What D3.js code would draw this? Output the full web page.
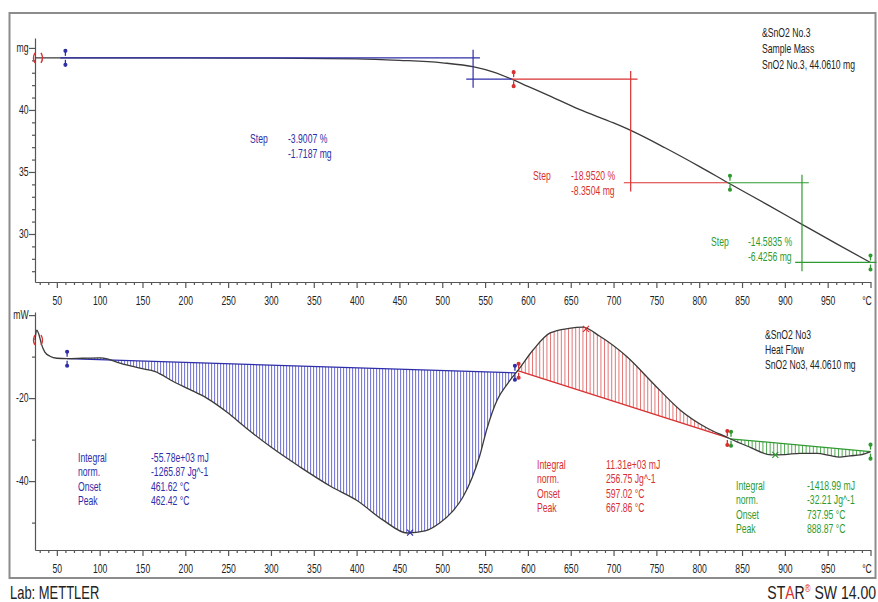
<!DOCTYPE html>
<html>
<head>
<meta charset="utf-8">
<script src="https://cdn.jsdelivr.net/npm/d3@7"></script>
<style>
  body { margin: 0; background: #fff; }
  svg { display: block; }
  text { font-family: "Liberation Sans", Arial, sans-serif; }
</style>
</head>
<body>
<svg id="chart" width="878" height="602"></svg>
<script>
// ---- Data ---------------------------------------------------------------
// Temperature axis ticks (°C)
const tempMajor = [50, 100, 150, 200, 250, 300, 350, 400, 450, 500, 550, 600, 650, 700, 750, 800, 850, 900, 950, 1000];
// TGA: sample mass (mg) against temperature (°C)
const massTemp = [24.5, 60, 100, 200, 300, 400, 450, 500, 537, 560, 581, 600, 620, 660, 700, 720, 760, 800, 833.6, 880, 920, 960, 1000];
const massVal  = [44.20, 44.20, 44.20, 44.19, 44.17, 44.12, 44.00, 43.80, 43.47, 43.05, 42.4813, 41.90, 41.30, 40.05, 38.95, 38.35, 36.95, 35.45, 34.13, 32.35, 30.78, 29.22, 27.70];
const massMajor = [30, 35, 40, 45];
// DSC: heat flow (mW) against temperature (°C)
const heatTemp = [24.5, 26.5, 29, 32, 36, 42, 50, 62, 80, 100, 110, 120, 135, 147, 165, 186, 205, 225, 250, 271, 300, 334, 370, 400, 431, 459, 480, 497, 512, 524, 544, 552, 564, 576, 581, 586, 588, 606, 626, 648, 664, 684, 716, 746, 778, 809, 834, 836, 859, 884, 900, 918, 938, 952, 964, 976, 988, 1000];
const heatVal  = [-6.0, -3.6, -4.6, -7.0, -8.9, -9.9, -10.4, -10.5, -10.4, -10.3, -10.6, -11.3, -12.2, -12.8, -13.6, -16.0, -17.9, -20.0, -23.6, -27.2, -31.8, -36.6, -41.3, -44.6, -49.4, -52.5, -52.0, -50.1, -47.3, -43.9, -33.7, -27.5, -20.5, -16.6, -15.2, -13.9, -13.4, -8.4, -4.3, -3.2, -2.9, -5.1, -10.1, -16.4, -22.9, -27.2, -29.6, -29.8, -31.8, -33.7, -33.6, -33.3, -33.3, -33.8, -34.2, -33.9, -33.7, -32.9];
const heatMajor = [0, -20, -40];

// TGA step evaluations
const stepLimits = [[60, 581], [581, 833.6], [833.6, 1000]];
const stepMid    = [536, 720, 920];
const stepPct    = ["-3.9007 %", "-18.9520 %", "-14.5835 %"];
const stepMg     = [-1.7187, -8.3504, -6.4256];

// DSC peak integrations
const peakLimits   = [[62, 586], [588, 834], [836, 1000]];
const peakIntegral = ["-55.78e+03 mJ", "11.31e+03 mJ", "-1418.99 mJ"];
const peakNorm     = ["-1265.87 Jg^-1", "256.75 Jg^-1", "-32.21 Jg^-1"];
const peakOnset    = [461.62, 597.02, 737.95];
const peakTemp     = [462.42, 667.86, 888.87];

// ---- Styling --------------------------------------------------------------
const colors = ["#2e2ea8", "#d83030", "#2f9a2f"];
const hatchColors = ["#5a5ad0", "#e06868", "#3f9f3f"];
const SX = 0.72;              // horizontal compression of all lettering
const svg = d3.select("#chart");

function txt(g, x, y, s, fill, size, anchor) {
  return g.append("text")
    .attr("transform", `translate(${x},${y}) scale(${SX},1)`)
    .attr("fill", fill).attr("font-size", size)
    .attr("text-anchor", anchor || "start").text(s);
}
function interp(xs, ys, t) {
  const i = Math.max(1, d3.bisectLeft(xs, t));
  const j = Math.min(i, xs.length - 1);
  const x0 = xs[j - 1], x1 = xs[j];
  return ys[j - 1] + (ys[j] - ys[j - 1]) * (t - x0) / (x1 - x0);
}

// outer frame
svg.append("rect").attr("x", 9.5).attr("y", 13).attr("width", 866).attr("height", 565)
  .attr("fill", "none").attr("stroke", "#8c8c8c").attr("stroke-width", 2);

// ---- Scales -----------------------------------------------------------
const x = d3.scaleLinear().domain([24.5, 1000]).range([35, 870.5]);
const yMass = d3.scaleLinear().domain([45.8, 26.13]).range([38, 282]);
const yHeat = d3.scaleLinear().domain([0.75, -56.6]).range([312, 550]);

const tempMinor = d3.range(30, 1000, 10).filter(t => t % 50 !== 0);

function xAxis(yPos) {
  const g = svg.append("g").attr("transform", `translate(0,${yPos})`);
  g.append("g").call(d3.axisBottom(x).tickValues(tempMinor).tickSize(3).tickSizeOuter(0).tickFormat(""))
    .call(a => a.select(".domain").remove());
  const major = g.append("g").call(d3.axisBottom(x).tickValues(tempMajor).tickSize(6).tickSizeOuter(0)
    .tickPadding(8).tickFormat(t => t === 1000 ? "°C" : t));
  major.selectAll("text").attr("font-size", 12).attr("fill", "#222")
    .attr("font-family", "Liberation Sans, Arial, sans-serif")
    .attr("transform", t => `translate(${t === 1000 ? -4 : 0},0) scale(${SX},1)`);
  g.selectAll("line, path").attr("stroke", "#555").attr("stroke-width", 1.2);
}
function yAxis(scale, majors, minors, unit) {
  const g = svg.append("g").attr("transform", "translate(35,0)");
  g.append("g").call(d3.axisLeft(scale).tickValues(minors).tickSize(3).tickSizeOuter(0).tickFormat(""));
  const major = g.append("g").call(d3.axisLeft(scale).tickValues(majors).tickSize(6).tickSizeOuter(0)
    .tickPadding(3).tickFormat(v => v === majors[0] ? unit : v));
  major.select(".domain").remove();
  major.selectAll("text").attr("font-size", 12).attr("fill", "#222")
    .attr("font-family", "Liberation Sans, Arial, sans-serif")
    .attr("transform", `scale(${SX},1)`);
  g.selectAll("line, path").attr("stroke", "#555").attr("stroke-width", 1.2);
}

xAxis(282);
xAxis(550);
yAxis(yMass, [45, 40, 35, 30], d3.range(27, 46).filter(v => v % 5 !== 0), "mg");
yAxis(yHeat, heatMajor, [-10, -30, -50], "mW");

// ---- Markers ------------------------------------------------------------
function limitMark(px, py, color) {
  const g = svg.append("g").attr("stroke", color).attr("fill", color).attr("stroke-width", 1.3);
  g.append("line").attr("x1", px).attr("x2", px).attr("y1", py - 8).attr("y2", py - 2);
  g.append("line").attr("x1", px).attr("x2", px).attr("y1", py + 2).attr("y2", py + 8);
  g.append("circle").attr("cx", px).attr("cy", py - 7).attr("r", 1.4);
  g.append("circle").attr("cx", px).attr("cy", py + 7).attr("r", 1.4);
}
function bracketMark(px, py) {
  svg.append("path")
    .attr("d", `M${px},${py - 5} Q${px - 3},${py} ${px},${py + 5} M${px + 6},${py - 5} Q${px + 9},${py} ${px + 6},${py + 5}`)
    .attr("fill", "none").attr("stroke", "#d83030").attr("stroke-width", 1.4);
}
function crossMark(px, py, color) {
  svg.append("path").attr("d", `M${px - 3},${py - 3}L${px + 3},${py + 3}M${px - 3},${py + 3}L${px + 3},${py - 3}`)
    .attr("stroke", color).attr("stroke-width", 1.2);
}

// ---- TGA panel ----------------------------------------------------------
const massPts = massTemp.map((t, i) => [t, massVal[i]]);
svg.append("path").datum(massPts)
  .attr("d", d3.line().x(d => x(d[0])).y(d => yMass(d[1])).curve(d3.curveMonotoneX))
  .attr("fill", "none").attr("stroke", "#3a3a3a").attr("stroke-width", 1.3);

stepLimits.forEach(([t0, t1], i) => {
  const upper = interp(massTemp, massVal, t0);
  const lower = upper + stepMg[i];
  const tm = stepMid[i];
  const g = svg.append("g").attr("stroke", colors[i]).attr("stroke-width", 1.2).attr("fill", "none");
  g.append("line").attr("x1", x(i === 0 ? t0 - 6 : t0)).attr("x2", x(tm + 8)).attr("y1", yMass(upper)).attr("y2", yMass(upper));
  g.append("line").attr("x1", x(tm)).attr("x2", x(tm)).attr("y1", yMass(upper + 0.65)).attr("y2", yMass(lower - 0.7));
  g.append("line").attr("x1", x(tm - 8)).attr("x2", x(i === 2 ? t1 + 7 : t1)).attr("y1", yMass(lower)).attr("y2", yMass(lower));
  limitMark(x(t0) + (i === 0 ? 0 : 2), yMass(upper), colors[i]);
});
limitMark(x(1000), yMass(interp(massTemp, massVal, 1000)), colors[2]);
bracketMark(x(24.5), yMass(massVal[0]));

// step labels
const stepLabelPos = [[250, 143, 288], [533, 180, 571], [711, 246, 748]];
stepLabelPos.forEach(([lx, ly, vx], i) => {
  txt(svg, lx, ly, "Step", colors[i], 12);
  txt(svg, vx, ly, stepPct[i], colors[i], 12);
  txt(svg, vx, ly + 15, stepMg[i].toFixed(4) + " mg", colors[i], 12);
});

// TGA legend
["&SnO2 No.3", "Sample Mass", "SnO2 No.3, 44.0610 mg"].forEach((s, i) =>
  txt(svg, 762, 37 + i * 16, s, "#222", 12));

// ---- DSC panel ----------------------------------------------------------
const heatPts = heatTemp.map((t, i) => [t, heatVal[i]]);

peakLimits.forEach(([t0, t1], i) => {
  const v0 = interp(heatTemp, heatVal, t0), v1 = interp(heatTemp, heatVal, t1);
  const base = t => v0 + (v1 - v0) * (t - t0) / (t1 - t0);
  const seg = heatPts.filter(d => d[0] >= t0 && d[0] <= t1);
  const area = d3.area().x(d => x(d[0])).y0(d => yHeat(base(d[0]))).y1(d => yHeat(d[1])).curve(d3.curveMonotoneX);
  svg.append("clipPath").attr("id", "clip" + i).append("path").attr("d", area(seg));
  const step = i === 0 ? 3 : 3.6;
  svg.append("g").attr("clip-path", `url(#clip${i})`)
    .selectAll("line").data(d3.range(x(t0), x(t1), step)).join("line")
    .attr("x1", d => d + 0.5).attr("x2", d => d + 0.5).attr("y1", 312).attr("y2", 550)
    .attr("stroke", hatchColors[i]).attr("stroke-width", 0.9);
  svg.append("line").attr("x1", x(t0)).attr("x2", x(t1)).attr("y1", yHeat(v0)).attr("y2", yHeat(v1))
    .attr("stroke", colors[i]).attr("stroke-width", 1.3);
});

svg.append("path").datum(heatPts)
  .attr("d", d3.line().x(d => x(d[0])).y(d => yHeat(d[1])).curve(d3.curveMonotoneX))
  .attr("fill", "none").attr("stroke", "#3a3a3a").attr("stroke-width", 1.3);

peakLimits.forEach(([t0, t1], i) => {
  limitMark(x(t0) + (i === 0 ? 0 : 1), yHeat(interp(heatTemp, heatVal, t0)), colors[i]);
  if (i === 2) limitMark(x(t1), yHeat(interp(heatTemp, heatVal, t1)), colors[i]);
  crossMark(x(peakTemp[i]), yHeat(interp(heatTemp, heatVal, peakTemp[i])), colors[i]);
});
limitMark(x(586) - 1, yHeat(interp(heatTemp, heatVal, 586)), colors[0]);
limitMark(x(834) - 1, yHeat(interp(heatTemp, heatVal, 834)), colors[1]);
bracketMark(x(24.5), yHeat(heatVal[0]));

// integration results
const resultPos = [[78, 462, 151], [537, 469, 606], [736, 490, 807]];
resultPos.forEach(([lx, ly, vx], i) => {
  const vals = [peakIntegral[i], peakNorm[i], peakOnset[i].toFixed(2) + " °C", peakTemp[i].toFixed(2) + " °C"];
  ["Integral", "norm.", "Onset", "Peak"].forEach((s, k) => {
    txt(svg, lx, ly + k * 14.3, s, colors[i], 12);
    txt(svg, vx, ly + k * 14.3, vals[k], colors[i], 12);
  });
});

// DSC legend
["&SnO2 No3", "Heat Flow", "SnO2 No3, 44.0610 mg"].forEach((s, i) =>
  txt(svg, 765, 339 + i * 15, s, "#222", 12));

// ---- Footer -------------------------------------------------------------
txt(svg, 10, 599, "Lab: METTLER", "#222", 18);
const star = svg.append("text").attr("transform", `translate(876,599) scale(0.78,1)`)
  .attr("text-anchor", "end").attr("font-size", 18).attr("fill", "#222");
star.append("tspan").text("ST");
star.append("tspan").attr("fill", "#d83030").text("A");
star.append("tspan").text("R");
star.append("tspan").attr("fill", "#d83030").attr("font-size", 10).attr("dy", -7).text("®");
star.append("tspan").attr("dy", 7).text(" SW 14.00");
</script>
</body>
</html>
